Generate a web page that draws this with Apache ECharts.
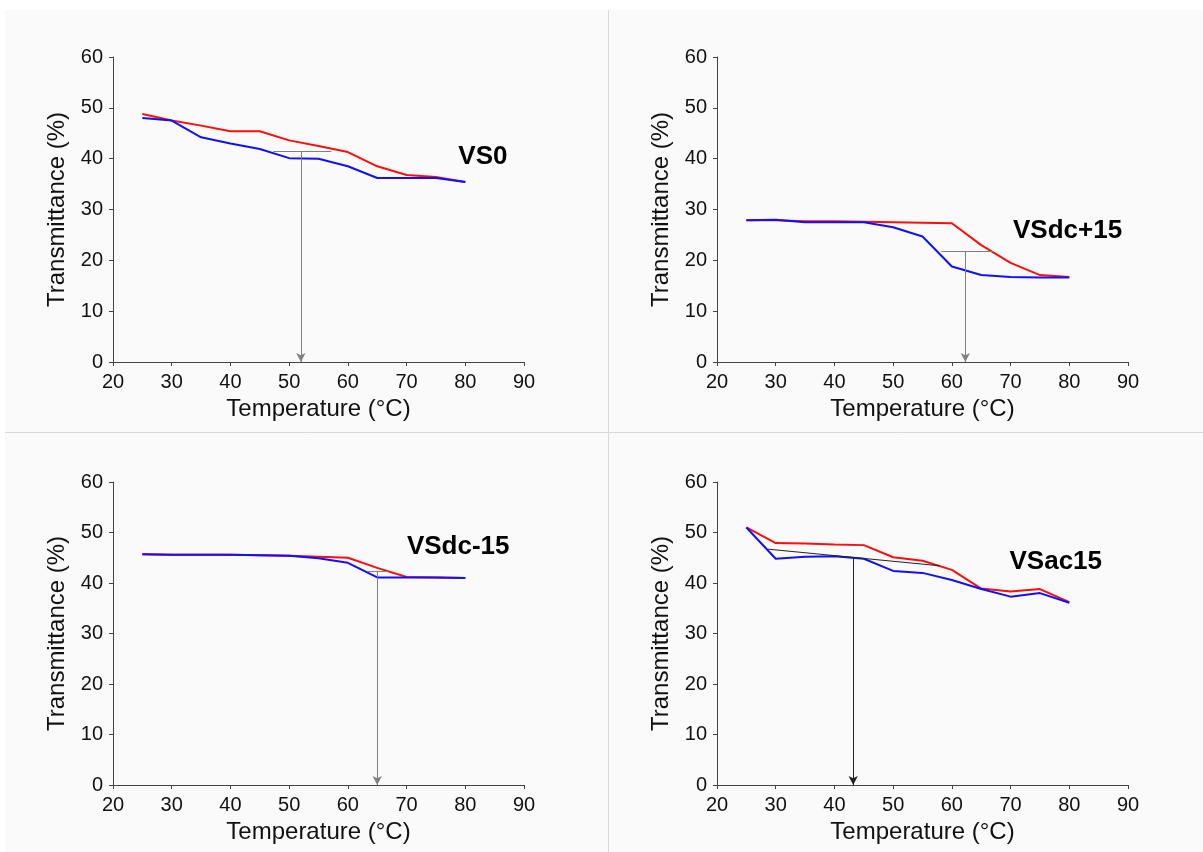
<!DOCTYPE html>
<html>
<head>
<meta charset="utf-8">
<script src="https://cdn.jsdelivr.net/npm/echarts@6/dist/echarts.min.js"></script>
<style>
html,body{margin:0;padding:0;background:#ffffff;}
#chart{width:1203px;height:852px;}
</style>
</head>
<body>
<div id="chart"></div>
<script>
// ---- data ----
const temps = [25, 30, 35, 40, 45, 50, 55, 60, 65, 70, 75, 80];
const xTicks = [20, 30, 40, 50, 60, 70, 80, 90];
const yTicks = [0, 10, 20, 30, 40, 50, 60];

const vs0Red   = [48.8, 47.5, 46.5, 45.4, 45.4, 43.6, 42.5, 41.3, 38.5, 36.8, 36.4, 35.4];
const vs0Blue  = [48.0, 47.5, 44.2, 43.0, 41.9, 40.1, 40.0, 38.5, 36.2, 36.2, 36.2, 35.4];
const dcp15Red  = [27.9, 27.9, 27.7, 27.7, 27.6, 27.5, 27.4, 27.3, 23.0, 19.5, 17.1, 16.7];
const dcp15Blue = [27.9, 28.0, 27.5, 27.5, 27.5, 26.5, 24.7, 18.8, 17.1, 16.7, 16.6, 16.6];
const dcm15Red  = [45.7, 45.6, 45.6, 45.6, 45.5, 45.4, 45.2, 45.0, 43.0, 41.2, 41.1, 41.0];
const dcm15Blue = [45.7, 45.6, 45.6, 45.6, 45.5, 45.4, 44.9, 44.0, 41.1, 41.1, 41.1, 41.0];
const ac15Red  = [51.0, 47.9, 47.8, 47.6, 47.5, 45.1, 44.4, 42.6, 38.9, 38.3, 38.8, 36.2];
const ac15Blue = [51.0, 44.8, 45.2, 45.3, 44.8, 42.4, 42.0, 40.6, 38.8, 37.3, 38.0, 36.1];

const panelNames = ['VS0', 'VSdc+15', 'VSdc-15', 'VSac15'];
// annotation anchors (data coords): name label, horizontal/slanted segment, arrow (x, from y)
const nameAnchors = [[83.0, 40.3], [79.7, 25.8], [78.8, 47.1], [77.7, 44.2]];
const segments = [[[47.3, 41.5], [57.2, 41.5]], [[58.2, 21.7], [67.1, 21.7]], [[63.3, 42.4], [66.8, 42.4]], [[28.7, 46.7], [58.0, 43.4]]];
const arrows = [[52.0, 41.5], [62.3, 21.7], [65.0, 42.4], [43.2, 45.1]];
const annotColors = ['#808080', '#808080', '#808080', '#222222'];

const redSets = [vs0Red, dcp15Red, dcm15Red, ac15Red];
const blueSets = [vs0Blue, dcp15Blue, dcm15Blue, ac15Blue];

// ---- layout ----
const grids = [
  {left: 113, top: 57, width: 411, height: 305},
  {left: 717, top: 57, width: 411, height: 305},
  {left: 113, top: 482, width: 411, height: 303},
  {left: 717, top: 482, width: 411, height: 303}
];
const FONT = 'Liberation Sans, Arial, sans-serif';
const axisCol = '#444444';

const xAxes = [], yAxes = [], series = [];
grids.forEach((g, i) => {
  xAxes.push({
    type: 'value', gridIndex: i, min: xTicks[0], max: xTicks[xTicks.length - 1], interval: 10,
    name: 'Temperature (\u00B0C)', nameLocation: 'middle', nameGap: 35,
    nameTextStyle: {fontFamily: FONT, fontSize: 24, color: '#111'},
    axisLine: {show: true, onZero: false, lineStyle: {color: axisCol, width: 1}},
    axisTick: {show: true, length: 4, lineStyle: {color: axisCol}},
    axisLabel: {fontFamily: FONT, fontSize: 20, color: '#111', margin: 10},
    splitLine: {show: false}
  });
  yAxes.push({
    type: 'value', gridIndex: i, min: yTicks[0], max: yTicks[yTicks.length - 1], interval: 10,
    name: 'Transmittance (%)', nameLocation: 'middle', nameGap: 44,
    nameTextStyle: {fontFamily: FONT, fontSize: 24, color: '#111'},
    axisLine: {show: true, onZero: false, lineStyle: {color: axisCol, width: 1}},
    axisTick: {show: true, length: 4, lineStyle: {color: axisCol}},
    axisLabel: {fontFamily: FONT, fontSize: 20, color: '#111', margin: 10},
    splitLine: {show: false}
  });
  const seg = segments[i], ar = arrows[i];
  series.push({
    type: 'line', xAxisIndex: i, yAxisIndex: i, showSymbol: false, symbol: 'none',
    data: temps.map((t, k) => [t, redSets[i][k]]),
    lineStyle: {color: '#ff0d0d', width: 2}, itemStyle: {color: '#ff0d0d'},
    z: 2,
    markLine: {
      silent: true, animation: false, symbol: ['none', 'arrow'], symbolSize: [7, 9],
      label: {show: false},
      lineStyle: {color: annotColors[i], width: 1, type: 'solid'},
      data: [
        [{coord: [ar[0], ar[1]], symbol: 'none'}, {coord: [ar[0], 0], symbol: 'arrow'}],
        [{coord: seg[0], symbol: 'none'}, {coord: seg[1], symbol: 'none'}]
      ]
    }
  });
  series.push({
    type: 'line', xAxisIndex: i, yAxisIndex: i, showSymbol: false, symbol: 'none',
    data: temps.map((t, k) => [t, blueSets[i][k]]),
    lineStyle: {color: '#1010ff', width: 2}, itemStyle: {color: '#1010ff'},
    z: 3
  });
  series.push({
    type: 'scatter', xAxisIndex: i, yAxisIndex: i, symbolSize: 0,
    data: [nameAnchors[i]], silent: true,
    itemStyle: {opacity: 1, color: '#000000'},
    label: {show: true, position: 'inside', formatter: panelNames[i],
      fontFamily: FONT, fontWeight: 'bold', fontSize: 26, color: '#000000', opacity: 1,
      textBorderWidth: 0, textBorderColor: 'transparent'},
    z: 4
  });
});

const chart = echarts.init(document.getElementById('chart'), null, {renderer: 'canvas'});
chart.setOption({
  animation: false,
  backgroundColor: '#ffffff',
  graphic: [
    {type: 'rect', shape: {x: 5, y: 10, width: 1198, height: 842}, style: {fill: '#fafafa'}, z: -10},
    {type: 'line', shape: {x1: 608.5, y1: 10, x2: 608.5, y2: 852}, style: {stroke: '#d9d9d9', lineWidth: 1}, z: -5},
    {type: 'line', shape: {x1: 5, y1: 432.5, x2: 1203, y2: 432.5}, style: {stroke: '#d9d9d9', lineWidth: 1}, z: -5}
  ],
  grid: grids,
  xAxis: xAxes,
  yAxis: yAxes,
  series: series
});
</script>
</body>
</html>
